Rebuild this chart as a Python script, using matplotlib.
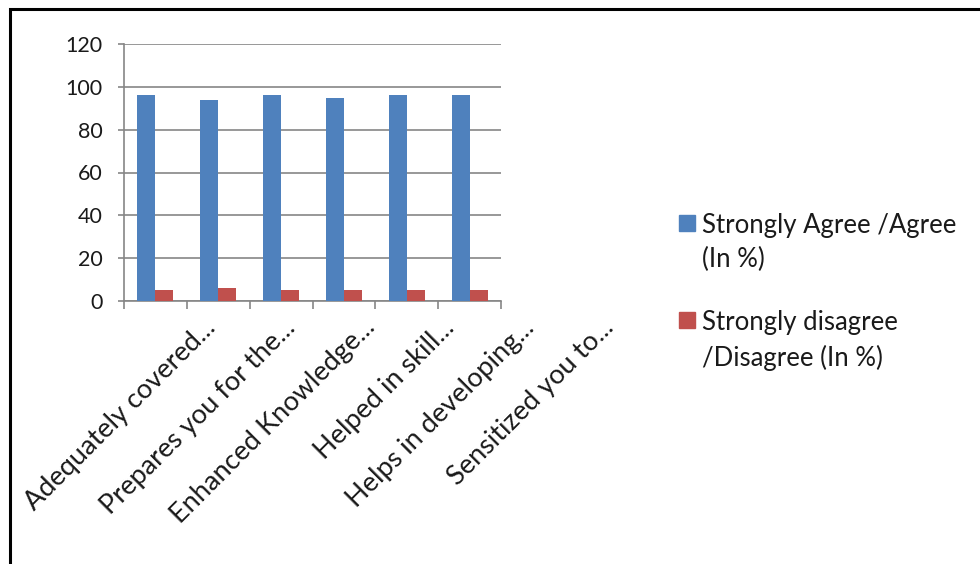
import matplotlib
matplotlib.use("Agg")
import numpy as np
import matplotlib.pyplot as plt
import matplotlib.transforms as mtransforms
from matplotlib.patches import Rectangle

categories = ["Adequately covered...", "Prepares you for the...", "Enhanced Knowledge...",
              "Helped in skill...", "Helps in developing...", "Sensitized you to..."]
agree = [96, 94, 96, 95, 96, 96]
disagree = [5, 6, 5, 5, 5, 5]
series_names = ["Strongly Agree /Agree\n(In %)", "Strongly disagree\n/Disagree (In %)"]
colors = ["#4F81BD", "#C0504D"]

plt.rcParams['font.family'] = ['Lato', 'DejaVu Sans']

fig = plt.figure(figsize=(9.8, 5.64), dpi=100)
ax = fig.add_axes([124 / 980, 1 - 301 / 564, 377 / 980, 257 / 564])

x = np.arange(len(categories))
w = 0.286
ax.bar(x - w / 2, agree, w, color=colors[0], zorder=3)
ax.bar(x + w / 2, disagree, w, color=colors[1], zorder=3)

ax.set_xlim(-0.5, len(categories) - 0.5)
ax.set_ylim(0, 120)
ax.set_yticks(np.arange(0, 121, 20))
ax.yaxis.grid(True, color="#868686", lw=1.2, zorder=0)
for s in ["top", "right"]:
    ax.spines[s].set_visible(False)
for s in ["left", "bottom"]:
    ax.spines[s].set_color("#868686")
    ax.spines[s].set_linewidth(1.2)
ax.tick_params(axis="y", length=4.5, width=1.2, color="#868686", pad=11,
               labelsize=15.5, labelcolor="#1a1a1a")
ax.set_xticks(np.arange(-0.5, len(categories), 1))
ax.set_xticklabels([])
ax.tick_params(axis="x", length=5.5, width=1.2, color="#868686")

# category labels, rotated like Excel does them
for i, lab in enumerate(categories):
    dx = (61.6 + 16.8 * i) / 100
    off = mtransforms.ScaledTranslation(dx, -28 / 100, fig.dpi_scale_trans)
    ax.text(i, 0, lab, transform=ax.get_xaxis_transform() + off, rotation=45,
            rotation_mode="anchor", ha="right", va="baseline", fontsize=19.5,
            color="#1a1a1a")

# legend drawn by hand so the square sits on the first line
for k, (name, c) in enumerate(zip(series_names, colors)):
    ytop = 214 + 97 * k
    fig.patches.append(Rectangle((679 / 980, 1 - (ytop + 17) / 564), 16 / 980, 16 / 564,
                                 transform=fig.transFigure, color=c))
    fig.text(702 / 980, 1 - (ytop - 1) / 564, name, ha="left", va="top", fontsize=18.5,
             color="#1a1a1a", linespacing=1.45)

# outer frame
fig.patches.append(Rectangle((9.5 / 980, -0.1), 1.2, 1 - 9.5 / 564 + 0.1,
                             transform=fig.transFigure, fill=False, ec="black", lw=2.2))

fig.savefig("out.png", dpi=100)
